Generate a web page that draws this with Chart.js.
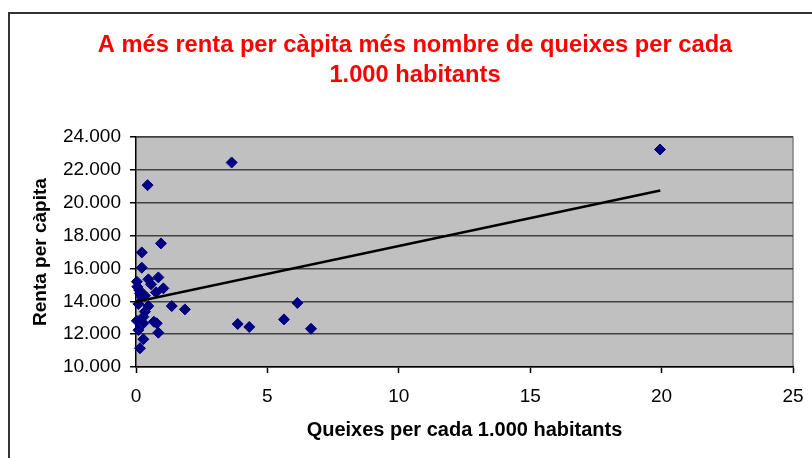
<!DOCTYPE html>
<html>
<head>
<meta charset="utf-8">
<script src="https://cdn.jsdelivr.net/npm/chart.js@4"></script>
<style>
  body { margin: 0; background: #fff; overflow: hidden; }
  #frame {
    position: absolute; left: 8px; top: 12px;
    width: 840px; height: 480px;
    border: 2px solid #333;
  }
  #wrap { position: absolute; left: 0; top: 0; width: 810px; height: 440px; }
</style>
</head>
<body>
<div id="frame"><div id="wrap"><canvas id="myChart1"></canvas></div></div>
<script>
// queixes per 1.000 habitants (x) i renta per càpita (y)
const queixes = [3.64, 0.44, 0.95, 0.22, 0.22, 0.03, 0.05, 0.12, 0.2, 0.47, 0.85, 0.57, 1.04, 0.76,
  0.15, 0.34, 0.09, 0.47, 1.36, 1.86, 0.34, 0.28, 0.03, 0.28, 0.68, 0.79, 0.09, 0.85, 0.28, 0.15,
  3.87, 4.31, 5.63, 6.14, 6.66, 19.94];
const renta = [22460, 21080, 17530, 16980, 16050, 15200, 14890, 14690, 14300, 15340, 15460, 15040, 14790, 14550,
  14490, 14340, 13840, 13710, 13710, 13510, 13370, 13060, 12820, 12660, 12760, 12660, 12250, 12090, 11690, 11140,
  12620, 12440, 12900, 13900, 12330, 23250];

// línia de tendència (extrems llegits del gràfic)
const trendX = [0, 19.95];
const trendY = [13980, 20750];

const xTicks = [0, 5, 10, 15, 20, 25];
const yTicks = [10000, 12000, 14000, 16000, 18000, 20000, 22000, 24000];

const points = queixes.map((q, i) => ({ x: q, y: renta[i] }));
const trend = trendX.map((q, i) => ({ x: q, y: trendY[i] }));

const plotBg = {
  id: "plotBg",
  beforeDraw(chart) {
    const { ctx, chartArea: a } = chart;
    ctx.save();
    ctx.fillStyle = "#c0c0c0";
    ctx.fillRect(a.left, a.top, a.right - a.left, a.bottom - a.top);
    ctx.strokeStyle = "#808080";
    ctx.lineWidth = 1.5;
    ctx.beginPath();
    ctx.moveTo(a.left, a.top);
    ctx.lineTo(a.right, a.top);
    ctx.lineTo(a.right, a.bottom);
    ctx.stroke();
    ctx.restore();
  },
};

const font = "'Liberation Sans', Arial, sans-serif";
const ctx = document.getElementById("myChart1");

new Chart(ctx, {
  type: "scatter",
  data: {
    datasets: [
      {
        type: "line",
        data: trend,
        borderColor: "#000",
        borderWidth: 2.5,
        pointRadius: 0,
        fill: false,
      },
      {
        data: points,
        pointStyle: "rectRot",
        pointRadius: 5.5,
        backgroundColor: "#000080",
        borderColor: "#000080",
        borderWidth: 1,
        clip: false,
      },
    ],
  },
  options: {
    responsive: true,
    maintainAspectRatio: false,
    animation: false,
    layout: { padding: { top: 16, right: 0, bottom: 0, left: 0 } },
    plugins: {
      legend: { display: false },
      tooltip: { enabled: false },
      title: {
        display: true,
        text: ["A més renta per càpita més nombre de queixes per cada", "1.000 habitants"],
        color: "#ff0000",
        font: { family: font, size: 23.7, weight: "bold", lineHeight: 1.27 },
        padding: { top: 0, bottom: 47 },
      },
    },
    scales: {
      x: {
        type: "linear",
        min: 0,
        max: 25,
        afterBuildTicks: (s) => { s.ticks = xTicks.map((v) => ({ value: v })); },
        afterFit: (s) => { s.height = 87; },
        ticks: {
          color: "#000",
          padding: 12,
          font: { family: font, size: 19 },
        },
        grid: { drawOnChartArea: false, drawTicks: true, tickLength: 6, tickColor: "#000", tickWidth: 1.5 },
        border: { color: "#000", width: 1.5 },
        title: {
          display: true,
          text: "Queixes per cada 1.000 habitants",
          color: "#000",
          font: { family: font, size: 20, weight: "bold" },
          padding: { top: 0, bottom: 12 },
        },
      },
      y: {
        min: 10000,
        max: 24000,
        afterBuildTicks: (s) => { s.ticks = yTicks.map((v) => ({ value: v })); },
        afterFit: (s) => { s.width = 126; },
        ticks: {
          color: "#000",
          padding: 9,
          font: { family: font, size: 19 },
          callback: (v) => (v / 1000).toFixed(3),
        },
        grid: { color: "#404040", lineWidth: 1.5, tickLength: 6, tickColor: "#000", tickWidth: 1.5 },
        border: { color: "#000", width: 1.5 },
        title: {
          display: true,
          text: "Renta per càpita",
          color: "#000",
          font: { family: font, size: 19, weight: "bold" },
          padding: { top: 19.6, bottom: 0 },
        },
      },
      // empty right margin so the title stays centred on the whole frame
      yRight: {
        position: "right",
        min: 0,
        max: 1,
        afterFit: (s) => { s.width = 27; },
        ticks: { display: false },
        grid: { display: false, drawTicks: false },
        border: { display: false },
      },
    },
  },
  plugins: [plotBg],
});
</script>
</body>
</html>
